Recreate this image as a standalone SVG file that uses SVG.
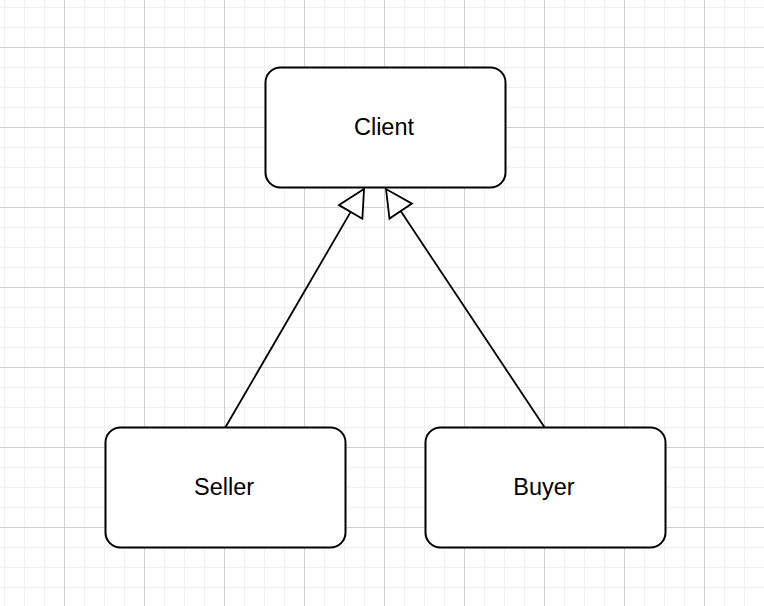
<svg xmlns="http://www.w3.org/2000/svg" width="764" height="606" viewBox="0 0 764 606">
  <defs>
    <pattern id="minor" patternUnits="userSpaceOnUse" x="4" y="7" width="20" height="20">
      <path d="M0,0 H20 M0,0 V20" fill="none" stroke="#f0f0f0" stroke-width="2"/>
    </pattern>
    <pattern id="major" patternUnits="userSpaceOnUse" x="64" y="47" width="80" height="80">
      <path d="M0,0.5 H80 M0.5,0 V80" fill="none" stroke="#d0d0d0" stroke-width="1"/>
    </pattern>
    <marker id="inherit" markerUnits="userSpaceOnUse" markerWidth="32" markerHeight="32" viewBox="-2 -16 32 32" refX="0" refY="0" orient="auto" overflow="visible">
      <path d="M0,-13.5 L26.5,0 L0,13.5 Z" fill="#ffffff" stroke="#000000" stroke-width="1.8" stroke-linejoin="miter"/>
    </marker>
    <style>
      .box { fill: #ffffff; stroke: #000000; stroke-width: 2; }
      .label { font-family: "Liberation Sans", Arial, Helvetica, sans-serif; font-size: 23.5px; fill: #000000; text-anchor: middle; }
      .edge { fill: none; stroke: #000000; stroke-width: 1.8; marker-end: url(#inherit); }
    </style>
  </defs>
  <rect width="764" height="606" fill="#ffffff"/>
  <rect width="764" height="606" fill="url(#minor)"/>
  <rect width="764" height="606" fill="url(#major)"/>

  <g id="connectors">
    <line class="edge" x1="225" y1="428" x2="350.7" y2="211.9"/>
    <line class="edge" x1="545" y1="428" x2="400.7" y2="211.1"/>
  </g>

  <g id="client">
    <rect class="box" x="265.5" y="67.5" width="240" height="120" rx="15" ry="15"/>
    <text class="label" x="384" y="135">Client</text>
  </g>
  <g id="seller">
    <rect class="box" x="105.5" y="427.5" width="240" height="120" rx="15" ry="15"/>
    <text class="label" x="224" y="495">Seller</text>
  </g>
  <g id="buyer">
    <rect class="box" x="425.5" y="427.5" width="240" height="120" rx="15" ry="15"/>
    <text class="label" x="544" y="495">Buyer</text>
  </g>
</svg>
